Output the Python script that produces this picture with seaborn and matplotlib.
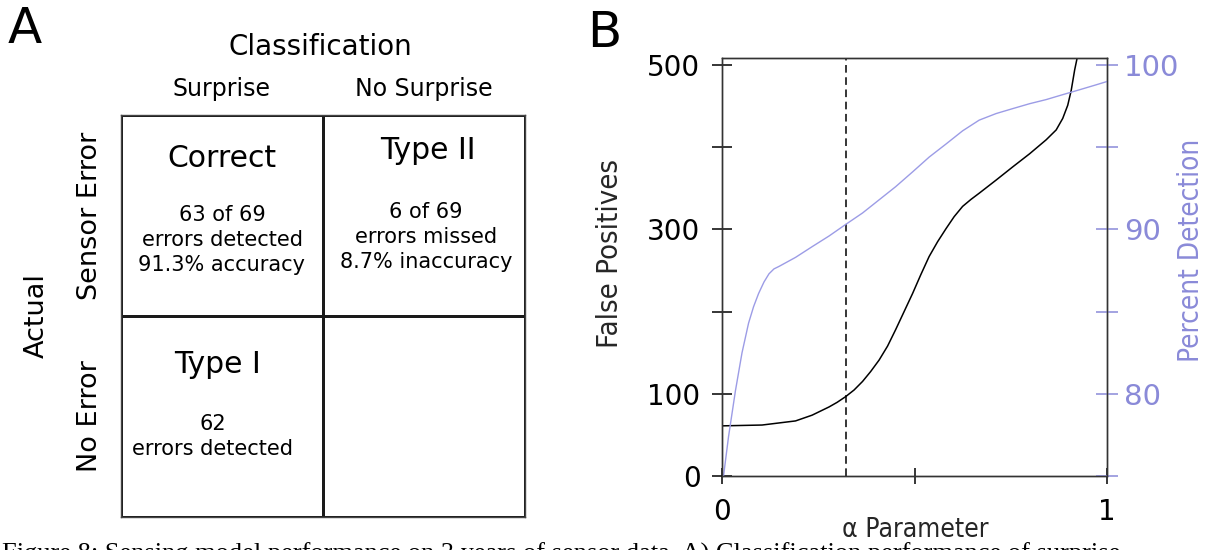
import numpy as np
import pandas as pd
import matplotlib
matplotlib.use('Agg')
import matplotlib.pyplot as plt
from matplotlib.colors import ListedColormap
import seaborn as sns

# ------------------------------------------------------------
# data
# ------------------------------------------------------------
# panel A - confusion matrix
pred_labels = ['Surprise', 'No Surprise']
actual_labels = ['Sensor Error', 'No Error']
cell_titles = [['Correct', 'Type II'], ['Type I', '']]
cell_notes = [[['63 of 69', 'errors detected', '91.3% accuracy'],
               ['6 of 69', 'errors missed', '8.7% inaccuracy']],
              [['62', 'errors detected'], []]]

# panel B - false positives (black) vs alpha
alpha_fp = [0.0, 0.104, 0.191, 0.234, 0.278, 0.299, 0.321, 0.343, 0.365,
            0.386, 0.408, 0.430, 0.451, 0.473, 0.495, 0.516, 0.538, 0.560,
            0.582, 0.603, 0.625, 0.647, 0.668, 0.712, 0.755, 0.799, 0.842,
            0.868, 0.885, 0.898, 0.907, 0.916, 0.924]
false_pos = [61, 62, 67, 74, 84, 89.6, 96.5, 104.6, 115, 127, 141, 158, 178,
             200, 222, 244.5, 267, 285, 301, 315.5, 328, 336.6, 344, 360, 376,
             392, 409, 421, 435, 451, 469, 494, 512]

# panel B - percent detection (purple) vs alpha
alpha_pd = [0.004, 0.017, 0.035, 0.052, 0.069, 0.082, 0.095, 0.109, 0.122,
            0.135, 0.148, 0.191, 0.234, 0.278, 0.321, 0.365, 0.408, 0.451,
            0.495, 0.538, 0.582, 0.625, 0.668, 0.712, 0.755, 0.799, 0.842,
            0.885, 0.929, 0.972, 1.0]
pct_detect = [75.0, 77.4, 80.2, 82.5, 84.3, 85.3, 86.1, 86.8, 87.3, 87.6,
              87.75, 88.3, 88.95, 89.6, 90.3, 91.0, 91.8, 92.6, 93.5, 94.4,
              95.2, 96.0, 96.65, 97.05, 97.35, 97.65, 97.9, 98.2, 98.5, 98.8,
              99.0]

alpha_chosen = 0.321

fp_ticks = [0, 100, 200, 300, 400, 500]
fp_ticklabels = ['0', '100', '', '300', '', '500']
pd_ticks = [75, 80, 85, 90, 95, 100]
pd_ticklabels = ['', '80', '', '90', '', '100']
alpha_ticks = [0, 0.5, 1]
alpha_ticklabels = ['0', '', '1']

caption = ('Figure 8: Sensing model performance on 3 years of sensor data. '
           'A) Classification performance of surprise')

# ------------------------------------------------------------
# style
# ------------------------------------------------------------
sns.set_theme(style='white')
plt.rcParams['font.family'] = ['DejaVu Sans']
plt.rcParams['text.color'] = 'black'

W, H = 1209, 550
fig = plt.figure(figsize=(W / 100, H / 100), dpi=100)
fig.patch.set_facecolor('white')

purple_txt = '#8a8ad8'
purple_line = '#9c9ce6'
dark = '#1a1a1a'

# ------------------------------------------------------------
# panel A
# ------------------------------------------------------------
axA = fig.add_axes([121 / W, 1 - 517 / H, (525 - 121) / W, (517 - 115) / H])
grid = pd.DataFrame(np.zeros((2, 2)), index=actual_labels, columns=pred_labels)
sns.heatmap(grid, cmap=ListedColormap(['white']), cbar=False,
            linewidths=2.0, linecolor=dark, ax=axA)
for s in axA.spines.values():
    s.set_visible(True)
    s.set_linewidth(1.0)
    s.set_color('#444444')

axA.xaxis.tick_top()
axA.tick_params(axis='x', length=0, labelsize=17, pad=10, colors='black')
axA.tick_params(axis='y', length=0, labelsize=19.5, pad=13, colors='black')
for lab in axA.get_yticklabels():
    lab.set_rotation(90)
    lab.set_va('center')
axA.set_xlabel('')
axA.set_ylabel('')

# titles and notes inside the cells (baseline positions in cell units)
title_pos = {(0, 0): (0.50, 0.26), (0, 1): (1.52, 0.22), (1, 0): (0.48, 1.285)}
note_pos = {(0, 0): (0.50, 0.525), (0, 1): (1.51, 0.51), (1, 0): (0.455, 1.565)}
for i in range(2):
    for j in range(2):
        if cell_titles[i][j]:
            x, y = title_pos[(i, j)]
            axA.text(x, y, cell_titles[i][j], fontsize=21.5,
                     ha='center', va='baseline')
        for k, line in enumerate(cell_notes[i][j]):
            x, y = note_pos[(i, j)]
            axA.text(x, y + 0.126 * k, line, fontsize=15,
                     ha='center', va='baseline')

fig.text(320 / W, 1 - 47 / H, 'Classification', fontsize=20,
         ha='center', va='center')
fig.text(37 / W, 1 - 316 / H, 'Actual', fontsize=19.5, rotation=90,
         ha='center', va='center')
fig.text(8 / W, 1 - 43 / H, 'A', fontsize=36, va='baseline')
fig.text(587 / W, 1 - 47 / H, 'B', fontsize=36, va='baseline')

# ------------------------------------------------------------
# panel B
# ------------------------------------------------------------
axB = fig.add_axes([722 / W, 1 - 476 / H, 385 / W, 418 / H])
sns.lineplot(x=alpha_fp, y=false_pos, color='black', linewidth=1.1, ax=axB)
axB.axvline(alpha_chosen, color='black', linewidth=1.1, linestyle=(0, (5, 3)))
axB.set_xlim(0, 1)
axB.set_ylim(0, 508.5)
axB.set_xticks(alpha_ticks)
axB.set_xticklabels(alpha_ticklabels)
axB.set_yticks(fp_ticks)
axB.set_yticklabels(fp_ticklabels)
axB.tick_params(axis='y', direction='inout', length=15, width=1.1,
                labelsize=20, pad=8, colors='black', left=True)
axB.tick_params(axis='x', direction='inout', length=12, width=1.1,
                labelsize=20, pad=10, colors='black', bottom=True)
for s in axB.spines.values():
    s.set_linewidth(1.0)
    s.set_color('#333333')

axB.set_ylabel('False Positives', fontsize=21, fontstretch='condensed',
               ha='center', va='center')
axB.yaxis.set_label_coords(-0.29, 0.532)
axB.set_xlabel('α Parameter', fontsize=19, fontstretch='condensed',
               ha='center', va='center')
axB.xaxis.set_label_coords(0.501, -0.13)

ax2 = axB.twinx()
sns.lineplot(x=alpha_pd, y=pct_detect, color=purple_line, linewidth=1.0, ax=ax2)
ax2.set_ylim(75, 100.43)
ax2.set_yticks(pd_ticks)
ax2.set_yticklabels(pd_ticklabels)
ax2.tick_params(axis='y', direction='inout', length=16, width=1.1,
                labelsize=21, pad=4, colors=purple_txt, right=True)
for s in ax2.spines.values():
    s.set_linewidth(1.0)
    s.set_color('#333333')
ax2.set_ylabel('Percent Detection', fontsize=20, fontstretch='condensed',
               color=purple_txt, rotation=90, ha='center', va='center')
ax2.yaxis.set_label_coords(1.218, 0.54)

# caption, cut by the bottom edge as in the page scan
fig.text(0.002, 1 - 543 / H, caption, fontsize=19,
         family=['Liberation Serif', 'DejaVu Serif'], va='top', ha='left')

fig.savefig('out.png', dpi=100, facecolor='white')
plt.close(fig)
